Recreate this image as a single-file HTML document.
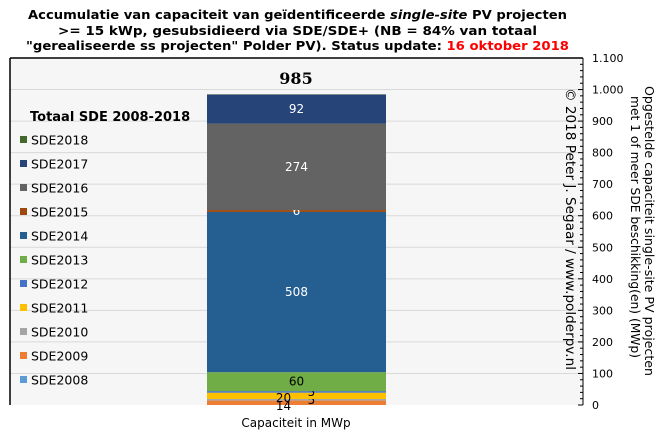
<!DOCTYPE html>
<html><head><meta charset="utf-8"><style>
html,body{margin:0;padding:0;background:#fff;}
svg{display:block;font-family:"DejaVu Sans","Liberation Sans",sans-serif;}
</style></head><body>
<svg id="chart" width="660" height="438" viewBox="0 0 660 438" xmlns="http://www.w3.org/2000/svg">
<g font-weight="bold" font-size="12" fill="#000">
<text x="28" y="19" textLength="539" lengthAdjust="spacingAndGlyphs">Accumulatie van capaciteit van geïdentificeerde <tspan font-style="italic">single-site</tspan> PV projecten</text>
<text x="58" y="35" textLength="479" lengthAdjust="spacingAndGlyphs">&gt;= 15 kWp, gesubsidieerd via SDE/SDE+  (NB = 84% van totaal</text>
<text x="26" y="50" textLength="543" lengthAdjust="spacingAndGlyphs">"gerealiseerde ss projecten" Polder PV). Status update: <tspan fill="#ff0000">16 oktober 2018</tspan></text>
</g>
<rect x="10" y="58" width="573" height="347" fill="#f6f6f6"/>
<g id="grid"></g>
<g id="bars"></g>
<line x1="10" y1="58" x2="583" y2="58" stroke="#000" stroke-width="1.5"/>
<line x1="10" y1="58" x2="10" y2="405" stroke="#000" stroke-width="1.5"/>
<line x1="583" y1="58" x2="583" y2="405" stroke="#000" stroke-width="1"/>
<g id="yaxis" font-size="11" fill="#000"></g>
<text x="296" y="84" text-anchor="middle" font-family="'DejaVu Serif','Liberation Serif',serif" font-weight="bold" font-size="16">985</text>
<text x="30" y="121" font-weight="bold" font-size="13">Totaal SDE 2008-2018</text>
<g id="legend" font-size="12.5"></g>
<text x="296" y="427" text-anchor="middle" font-size="12">Capaciteit in MWp</text>
<text transform="translate(566,88) rotate(90)" font-size="13" fill="#000" textLength="282" lengthAdjust="spacingAndGlyphs">© 2018 Peter J. Segaar / www.polderpv.nl</text>
<g font-size="12">
<text transform="translate(645,86) rotate(90)" textLength="290" lengthAdjust="spacingAndGlyphs">Opgestelde capaciteit single-site PV projecten</text>
<text transform="translate(631,96) rotate(90)" textLength="262" lengthAdjust="spacingAndGlyphs">met 1 of meer SDE beschikking(en) (MWp)</text>
</g>
</svg>
<script>
const categories = ["SDE2008","SDE2009","SDE2010","SDE2011","SDE2012","SDE2013","SDE2014","SDE2015","SDE2016","SDE2017","SDE2018"];
const values = [0, 14, 5, 20, 5, 60, 508, 6, 274, 92, 1];
const colors = ["#5b9bd5","#ed7d31","#a5a5a5","#ffc000","#4472c4","#70ad47","#255e91","#9e480e","#636363","#264478","#43682b"];
const tickValues = [0,100,200,300,400,500,600,700,800,900,1000,1100];
const tickLabels = ["0","100","200","300","400","500","600","700","800","900","1.000","1.100"];
const NS="http://www.w3.org/2000/svg";
const y0=405, y1=58, vmax=1100;
function yScale(v){return y0-(v/vmax)*(y0-y1);}
const grid=document.getElementById('grid'), yaxis=document.getElementById('yaxis');
tickValues.forEach((t,i)=>{
  const y=yScale(t);
  if(t>0 && t<vmax){
    const l=document.createElementNS(NS,'line');
    
    
    l.setAttribute('x1',10);l.setAttribute('x2',583);l.setAttribute('y1',y);l.setAttribute('y2',y);
    l.setAttribute('stroke','#d9d9d9');grid.appendChild(l);
  }
  const tk=document.createElementNS(NS,'line');
  
  
  tk.setAttribute('x1',578);tk.setAttribute('x2',583);tk.setAttribute('y1',y);tk.setAttribute('y2',y);tk.setAttribute('stroke','#000');
  yaxis.appendChild(tk);
  if(i<tickValues.length-1){
    for(let m=1;m<5;m++){
      const my=yScale(t+m*20);
      const mt=document.createElementNS(NS,'line');
      
      
      mt.setAttribute('x1',580);mt.setAttribute('x2',583);mt.setAttribute('y1',my);mt.setAttribute('y2',my);mt.setAttribute('stroke','#000');
      yaxis.appendChild(mt);
    }
  }
  const tx=document.createElementNS(NS,'text');
  
  
  tx.setAttribute('x',592);tx.setAttribute('y',y+4);tx.textContent=tickLabels[i];
  yaxis.appendChild(tx);
});
const bars=document.getElementById('bars');
const bx=207, bw=179;
let cum=0;
const labelOffsets={"SDE2009":[-13,3],"SDE2010":[15,0],"SDE2011":[-13,2],"SDE2012":[15,0]};
values.forEach((v,i)=>{
  const top=yScale(cum+v), bot=yScale(cum);
  const r=document.createElementNS(NS,'rect');
  
  
  r.setAttribute('x',bx);r.setAttribute('width',bw);r.setAttribute('y',top);r.setAttribute('height',Math.max(bot-top,0));
  r.setAttribute('fill',colors[i]);bars.appendChild(r);
  if(v>=5 && v!==0){
    const off=labelOffsets[categories[i]]||[0,0];
    const big=v>=50;
    const t=document.createElementNS(NS,'text');
    
    
    t.setAttribute('x',bx+bw/2+off[0]);
    t.setAttribute('y',(top+bot)/2+4+off[1]);
    t.setAttribute('text-anchor','middle');t.setAttribute('font-size','12');
    const white=(v>=90)||categories[i]==="SDE2015";
    t.setAttribute('fill',white?'#fff':'#000');
    t.textContent=v;bars.appendChild(t);
  }
  cum+=v;
});
const legend=document.getElementById('legend');
const rev=categories.slice().reverse(), revC=colors.slice().reverse();
rev.forEach((c,i)=>{
  const y=140+i*24;
  const s=document.createElementNS(NS,'rect');
  
  
  s.setAttribute('x',20);s.setAttribute('y',y-4);s.setAttribute('width',7);s.setAttribute('height',7);s.setAttribute('fill',revC[i]);
  legend.appendChild(s);
  const t=document.createElementNS(NS,'text');
  
  
  t.setAttribute('x',31);t.setAttribute('y',y+4.5);t.textContent=c;
  legend.appendChild(t);
});
</script>
</body></html>
